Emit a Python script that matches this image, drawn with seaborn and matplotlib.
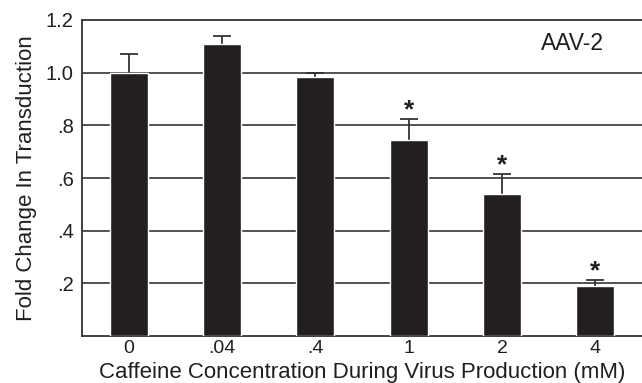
import matplotlib
matplotlib.use("Agg")
import matplotlib.pyplot as plt
import seaborn as sns
import pandas as pd
import numpy as np

categories = ["0", ".04", ".4", "1", "2", "4"]
values = [1.00, 1.11, 0.985, 0.745, 0.54, 0.19]
err_upper = [0.07, 0.03, 0.015, 0.08, 0.075, 0.022]
significant = [False, False, False, True, True, True]
ytick_vals = [0.2, 0.4, 0.6, 0.8, 1.0, 1.2]
ytick_labels = [".2", ".4", ".6", ".8", "1.0", "1.2"]

sns.set_theme(style="white")
plt.rcParams['font.family'] = ['Liberation Sans', 'DejaVu Sans']

fig = plt.figure(figsize=(6.42, 3.83), dpi=100)
ax = fig.add_axes([82/642, 1 - 336/383, 560/642, 316/383])

df = pd.DataFrame({"conc": categories, "fold": values})
sns.barplot(data=df, x="conc", y="fold", order=categories, color="#231f20",
            saturation=1, width=0.41, errorbar=None, ax=ax, zorder=3)

xs = np.arange(len(categories))
tops = np.array(values) + np.array(err_upper)
ax.vlines(xs, values, tops, color="#333333", linewidth=1.3, zorder=2)
ax.hlines(tops, xs - 0.095, xs + 0.095, color="#333333", linewidth=1.3, zorder=2)

for x, t, s in zip(xs, tops, significant):
    if s:
        ax.text(x, t - 0.012, "*", ha="center", va="bottom", fontsize=19,
                fontweight="bold", color="#231f20")

ax.set_ylim(0, 1.2)
ax.set_xlim(-0.5, len(categories) - 0.5)
ax.set_yticks(ytick_vals)
ax.set_yticklabels(ytick_labels)
for y in ytick_vals[:-1]:
    ax.axhline(y, color="#444444", linewidth=1.3, zorder=1)

ax.tick_params(axis="y", length=0, labelsize=14.5, colors="#231f20", pad=6)
ax.tick_params(axis="x", length=0, labelsize=14, colors="#231f20", pad=3)
ax.set_xlabel("Caffeine Concentration During Virus Production (mM)", fontsize=16,
              color="#231f20")
ax.xaxis.set_label_coords(0.5, -0.082)
ax.set_ylabel("Fold Change In Transduction", fontsize=16, color="#231f20", labelpad=6)

for side in ["left", "top", "bottom"]:
    ax.spines[side].set_visible(True)
    ax.spines[side].set_color("#333333")
    ax.spines[side].set_linewidth(1.3)
ax.spines["right"].set_visible(False)

ax.text(0.875, 0.925, "AAV-2", transform=ax.transAxes, ha="center", va="center",
        fontsize=16.5, color="#231f20")

fig.savefig("out.png", dpi=100)
